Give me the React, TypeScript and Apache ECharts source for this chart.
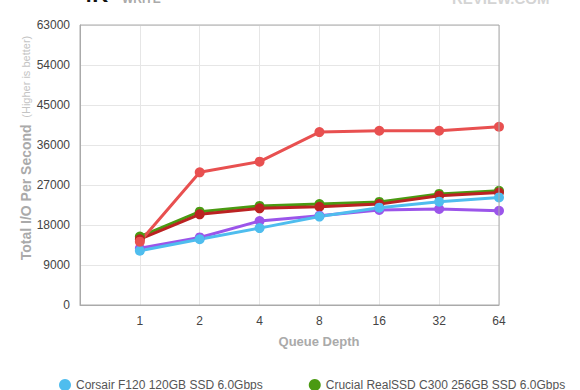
import React, { useEffect, useRef } from "react";
import * as echarts from "echarts";

const queueDepths = ["1", "2", "4", "8", "16", "32", "64"];
const seriesNames = [
  "Corsair F120 120GB SSD 6.0Gbps",
  "Crucial RealSSD C300 256GB SSD 6.0Gbps",
];
const corsairF120 = [12200, 14800, 17300, 19900, 21900, 23250, 24200];
const crucialC300 = [15400, 21000, 22300, 22700, 23200, 25000, 25700];
const darkRedSeries = [14800, 20400, 21750, 22100, 22700, 24600, 25300];
const purpleSeries = [12750, 15200, 18900, 20100, 21400, 21600, 21200];
const redSeries = [14250, 29850, 32250, 38900, 39200, 39200, 40100];
const yTicks = [0, 9000, 18000, 27000, 36000, 45000, 54000, 63000];

const FONT = "'Helvetica Neue', Arial, 'Liberation Sans', sans-serif";

function toPoints(vals: number[]) {
  return vals.map((v, i) => [i + 1, v]);
}

function mk(name: string, color: string, vals: number[]) {
  return {
    name,
    type: "line",
    data: toPoints(vals),
    symbol: "circle",
    symbolSize: 10,
    lineStyle: { width: 3, color },
    itemStyle: { color },
    emphasis: { disabled: true },
  };
}

export default function App() {
  const ref = useRef<HTMLDivElement>(null);
  useEffect(() => {
    if (!ref.current) return;
    const chart = echarts.init(ref.current, null, { renderer: "svg" });
    chart.setOption({
      animation: false,
      backgroundColor: "#ffffff",
      textStyle: { fontFamily: FONT },
      grid: { left: 80, right: 81, top: 25, bottom: 85, containLabel: false },
      legend: {
        data: seriesNames,
        left: 54,
        top: 374,
        icon: "circle",
        itemWidth: 12,
        itemHeight: 12,
        itemGap: 46,
        textStyle: { color: "#555", fontSize: 12, fontWeight: 500, fontFamily: FONT },
        selectedMode: false,
      },
      xAxis: {
        type: "value",
        min: 0,
        max: 7,
        interval: 1,
        axisLine: { show: true, lineStyle: { color: "#aaa", width: 1 } },
        axisTick: { show: false },
        splitLine: { show: true, lineStyle: { color: "#e6e6e6", width: 1 } },
        axisLabel: {
          color: "#444",
          fontSize: 12,
          margin: 10,
          formatter: (v: number) => (v >= 1 && v <= 7 ? queueDepths[v - 1] : ""),
        },
      },
      yAxis: {
        type: "value",
        min: yTicks[0],
        max: yTicks[yTicks.length - 1],
        interval: 9000,
        axisLine: { show: true, lineStyle: { color: "#aaa", width: 1 } },
        axisTick: { show: false },
        splitLine: { show: true, lineStyle: { color: "#e6e6e6", width: 1 } },
        axisLabel: {
          color: "#444",
          fontSize: 12,
          margin: 10,
          formatter: (v: number) => String(v),
        },
      },
      graphic: [
        {
          type: "rect",
          shape: { x: 80, y: 25, width: 419, height: 280 },
          style: { fill: "none", stroke: "#aaa", lineWidth: 1 },
          silent: true,
          z: 10,
        },
        {
          type: "text",
          x: 80,
          y: -17,
          style: { text: "4K", fill: "#111", font: `bold 22px ${FONT}` },
        },
        {
          type: "text",
          x: 122,
          y: -7,
          style: { text: "WRITE", fill: "#aaa", font: `bold 12px ${FONT}` },
        },
        {
          type: "text",
          x: 452,
          y: -9,
          style: { text: "REVIEW.COM", fill: "#d4d4d4", font: `bold 15px ${FONT}` },
        },
        {
          type: "text",
          x: 319,
          y: 341,
          style: {
            text: "Queue Depth",
            fill: "#aaa",
            font: `bold 13px ${FONT}`,
            align: "center",
            verticalAlign: "middle",
          },
        },
        {
          type: "text",
          x: 26,
          y: 148,
          rotation: Math.PI / 2,
          style: {
            text: "{a|Total I/O Per Second}  {b|(Higher is better)}",
            align: "center",
            verticalAlign: "middle",
            rich: {
              a: { fill: "#aaa", font: `bold 14px ${FONT}` },
              b: { fill: "#c4c4c4", font: `11px ${FONT}` },
            },
          },
        },
      ],
      series: [
        mk(seriesNames[1], "#4a9a12", crucialC300),
        mk("Series 3", "#bb2222", darkRedSeries),
        mk("Series 4", "#9b55ea", purpleSeries),
        mk(seriesNames[0], "#4fbdee", corsairF120),
        mk("Series 5", "#e85050", redSeries),
      ],
    });
    return () => chart.dispose();
  }, []);
  return (
    <div
      ref={ref}
      style={{ position: "fixed", left: 0, top: 0, width: 580, height: 390 }}
    />
  );
}
